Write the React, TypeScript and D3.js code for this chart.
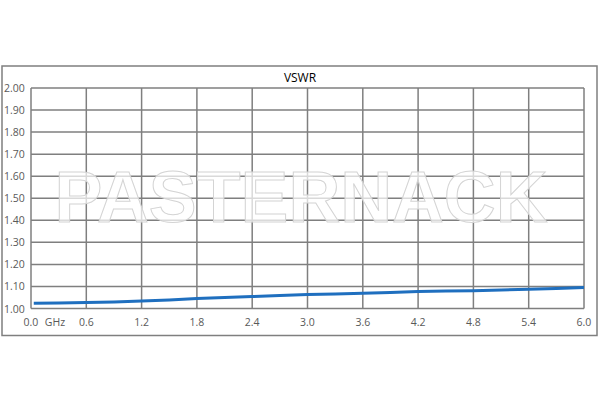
import React from "react";
import * as d3 from "d3";

const freqGHz = [0.03, 0.3, 0.6, 0.9, 1.2, 1.5, 1.8, 2.1, 2.4, 2.7, 3.0, 3.3, 3.6, 3.9, 4.2, 4.5, 4.8, 5.1, 5.4, 5.7, 6.0];
const vswr = [1.024, 1.025, 1.027, 1.03, 1.034, 1.039, 1.045, 1.05, 1.054, 1.059, 1.064, 1.066, 1.069, 1.073, 1.077, 1.079, 1.081, 1.084, 1.087, 1.091, 1.095];
const xTicks = [0.0, 0.6, 1.2, 1.8, 2.4, 3.0, 3.6, 4.2, 4.8, 5.4, 6.0];
const yTicks = [1.0, 1.1, 1.2, 1.3, 1.4, 1.5, 1.6, 1.7, 1.8, 1.9, 2.0];

export default function App() {
  const W = 600, H = 400;
  const x = d3.scaleLinear().domain([0, 6]).range([31, 584]);
  const y = d3.scaleLinear().domain([1, 2]).range([308.5, 88]);
  const line = d3.line<number>().x((_, i) => x(freqGHz[i])).y((d) => y(d));
  const font = "'Open Sans', 'Liberation Sans', sans-serif";
  return (
    <svg width={W} height={H} style={{ position: "absolute", left: 0, top: 0, background: "#fff" }}>
      <rect x={0} y={0} width={W} height={H} fill="#fff" />
      <rect x={2} y={66} width={595} height={269.5} fill="#fff" stroke="#7f7f7f" strokeWidth={1.5} />
      <text x={300} y={82} textAnchor="middle" fontFamily={font} fontSize={12} fill="#000">VSWR</text>
      {yTicks.map((t) => (
        <line key={"h" + t} x1={x(0)} x2={x(6)} y1={y(t)} y2={y(t)} stroke="#7f7f7f" strokeWidth={1.5} />
      ))}
      {xTicks.map((t) => (
        <line key={"v" + t} x1={x(t)} x2={x(t)} y1={y(1)} y2={y(2)} stroke="#7f7f7f" strokeWidth={1.5} />
      ))}
      <text x={301} y={222} textAnchor="middle" fontFamily="'Liberation Sans', Arial, sans-serif" fontWeight="bold" fontSize={72} textLength={493} lengthAdjust="spacingAndGlyphs" fill="#fff" fillOpacity={0.7} stroke="#d4d4d4" strokeWidth={1}>PASTERNACK</text>
      <path d={line(vswr) || ""} fill="none" stroke="#1f6fbf" strokeWidth={3} strokeLinecap="butt" />
      {yTicks.map((t) => (
        <text key={"yl" + t} x={4} y={y(t) + 4} fontFamily={font} fontSize={10.5} fill="#595959">{t.toFixed(2)}</text>
      ))}
      {xTicks.map((t) => (
        <text key={"xl" + t} x={x(t)} y={326} textAnchor="middle" fontFamily={font} fontSize={10.5} fill="#595959">{t.toFixed(1)}</text>
      ))}
      <text x={55} y={326} textAnchor="middle" fontFamily={font} fontSize={10.5} fill="#595959">GHz</text>
    </svg>
  );
}
